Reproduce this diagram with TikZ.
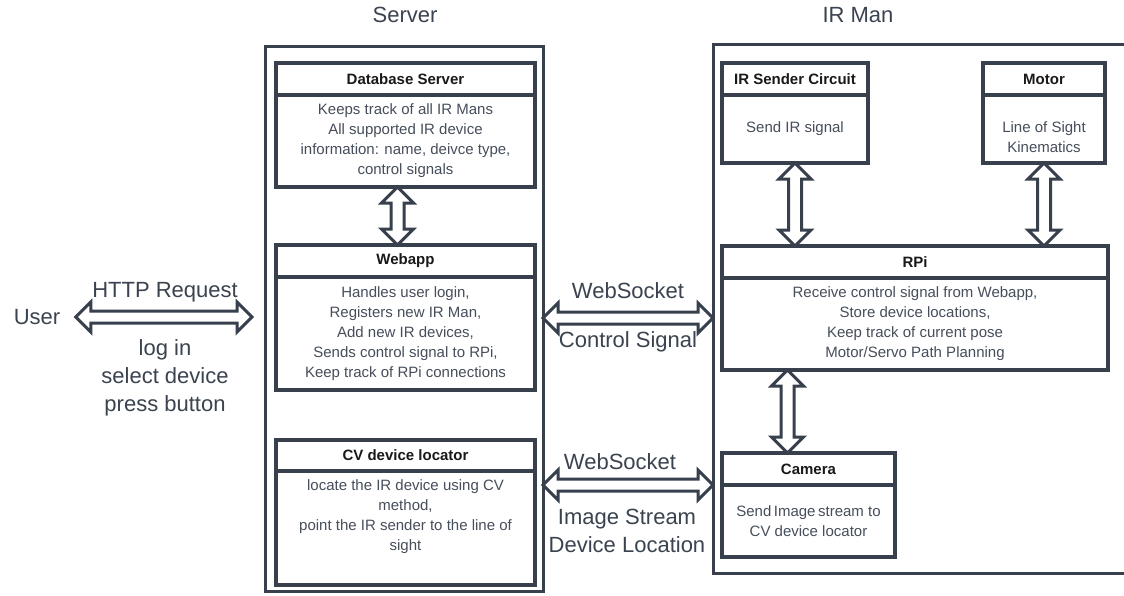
\documentclass[tikz,border=0pt]{standalone}
\usepackage{fontspec}
\setmainfont{Liberation Sans}
\usepackage{xcolor}
\usepackage{tikz}
\usetikzlibrary{positioning}
\usetikzlibrary{calc}

\definecolor{frame}{HTML}{37404C}
\definecolor{bodygray}{HTML}{464E5B}
\definecolor{lblgray}{HTML}{3A434F}

% hollow double-headed arrows: left tip to right tip / top tip to bottom tip
\newcommand{\fatH}[2]{\draw[fat] let \p1=#1, \p2=#2 in
    (\x1,\y1) -- (\x1+15pt,\y1+15pt) -- (\x1+15pt,\y1+6pt) -- (\x2-15pt,\y1+6pt)
    -- (\x2-15pt,\y1+15pt) -- (\x2,\y1) -- (\x2-15pt,\y1-15pt) -- (\x2-15pt,\y1-6pt)
    -- (\x1+15pt,\y1-6pt) -- (\x1+15pt,\y1-15pt) -- cycle;}
\newcommand{\fatV}[2]{\draw[fat] let \p1=#1, \p2=#2 in
    (\x1,\y1) -- (\x1+16pt,\y1-16pt) -- (\x1+6.5pt,\y1-16pt) -- (\x1+6.5pt,\y2+16pt)
    -- (\x1+16pt,\y2+16pt) -- (\x1,\y2) -- (\x1-16pt,\y2+16pt) -- (\x1-6.5pt,\y2+16pt)
    -- (\x1-6.5pt,\y1-16pt) -- (\x1-16pt,\y1-16pt) -- cycle;}

\begin{document}
\begin{tikzpicture}[x=1pt,y=-1pt,
    outerbox/.style={draw=frame,line width=3pt,outer sep=0pt,anchor=north west},
    hdr/.style={draw=frame,line width=3.2pt,outer sep=0pt,fill=white,text=black!90,
        font=\fontsize{15}{18}\selectfont\bfseries},
    bodybox/.style={draw=frame,line width=3.2pt,outer sep=0pt,fill=white,align=center,
        text=bodygray,font=\fontsize{15}{20}\selectfont},
    bodytxt/.style={align=center,text=bodygray,font=\fontsize{15}{20}\selectfont},
    lbl/.style={align=center,text=lblgray,font=\fontsize{22}{28}\selectfont},
    fat/.style={draw=frame,line width=3pt,fill=white}]
    \clip (0,0) rectangle (1124,595);
    \fill[white] (0,0) rectangle (1124,595);

    % outer frames
    \node[outerbox,minimum width=278,minimum height=545] (server) at (265,46) {};
    \node[outerbox,minimum width=430,minimum height=529] (irman) at (713,44) {};
    \node[lbl] (servt) at (405,15) {Server};
    \node[lbl] (irmant) at (858,15) {IR Man};

    % server side
    \node[hdr,anchor=north west,minimum width=259,minimum height=32] (db) at (276,63) {Database Server};
    \node[bodybox,below=0pt of db,minimum width=259,minimum height=92] (dbb)
        {Keeps track of all IR Mans\\All supported IR device\\information: name, deivce type,\\control signals};
    \node[hdr,anchor=north west,minimum width=259,minimum height=32] (web) at (276,245) {Webapp};
    \node[bodybox,below=0pt of web,minimum width=259,minimum height=113] (webb)
        {Handles user login,\\Registers new IR Man,\\Add new IR devices,\\Sends control signal to RPi,\\Keep track of RPi connections};
    \node[hdr,anchor=north west,minimum width=259,minimum height=31] (cv) at (276,440) {CV device locator};
    \node[bodybox,below=0pt of cv,minimum width=259,minimum height=114] (cvb) {};
    \node[bodytxt] (cvt) at ($(cvb.center)+(0,-11)$)
        {locate the IR device using CV\\method,\\point the IR sender to the line of\\sight};

    % IR Man side
    \node[hdr,anchor=north west,minimum width=146,minimum height=32] (snd) at (722,63) {IR Sender Circuit};
    \node[bodybox,below=0pt of snd,minimum width=146,minimum height=68] (sndb) {Send IR signal};
    \node[hdr,anchor=north west,minimum width=122,minimum height=32] (mot) at (983,63) {Motor};
    \node[bodybox,below=0pt of mot,minimum width=122,minimum height=68] (motb) {};
    \node[bodytxt] (mott) at ($(motb.center)+(0,8)$) {Line of Sight\\Kinematics};
    \node[hdr,anchor=north west,minimum width=386,minimum height=32] (rpi) at (722,246) {RPi};
    \node[bodybox,below=0pt of rpi,minimum width=386,minimum height=92] (rpib)
        {Receive control signal from Webapp,\\Store device locations,\\Keep track of current pose\\Motor/Servo Path Planning};
    \node[hdr,anchor=north west,minimum width=173,minimum height=32] (cam) at (722,453) {Camera};
    \node[bodybox,below=0pt of cam,minimum width=173,minimum height=72] (camb)
        {Send\,Image\,stream to\\CV device locator};

    % links inside the boxes
    \coordinate (camtop) at ($(cam.north)+(-21,0)$);
    \fatV{($(dbb.south)+(-8,0)$)}{(web.north)}
    \fatV{(sndb.south)}{(rpi.north)}
    \fatV{(motb.south)}{(rpi.north)}
    \fatV{(camtop |- rpib.south)}{(camtop)}

    % user and websocket links
    \node[lbl] (user) at (37,317) {User};
    \coordinate (httpR) at (252,318);
    \coordinate (wsA) at (543,318);
    \fatH{($(user.east)+(12,0)$)}{(httpR)}
    \fatH{(server.east |- wsA)}{(irman.west)}
    \fatH{(server.east |- cam.south)}{(irman.west)}

    \node[lbl] (httpt) at (165,292) {HTTP Request};
    \node[lbl] (httpb) at (165,378) {log in\\select device\\press button};
    \node[lbl] (wsAt) at (628,291) {WebSocket};
    \node[lbl] (wsAb) at (628,342) {Control Signal};
    \node[lbl] (wsBt) at (620,462) {WebSocket};
    \node[lbl] (wsBb) at (627,531) {Image Stream\\Device Location};
\end{tikzpicture}
\end{document}
